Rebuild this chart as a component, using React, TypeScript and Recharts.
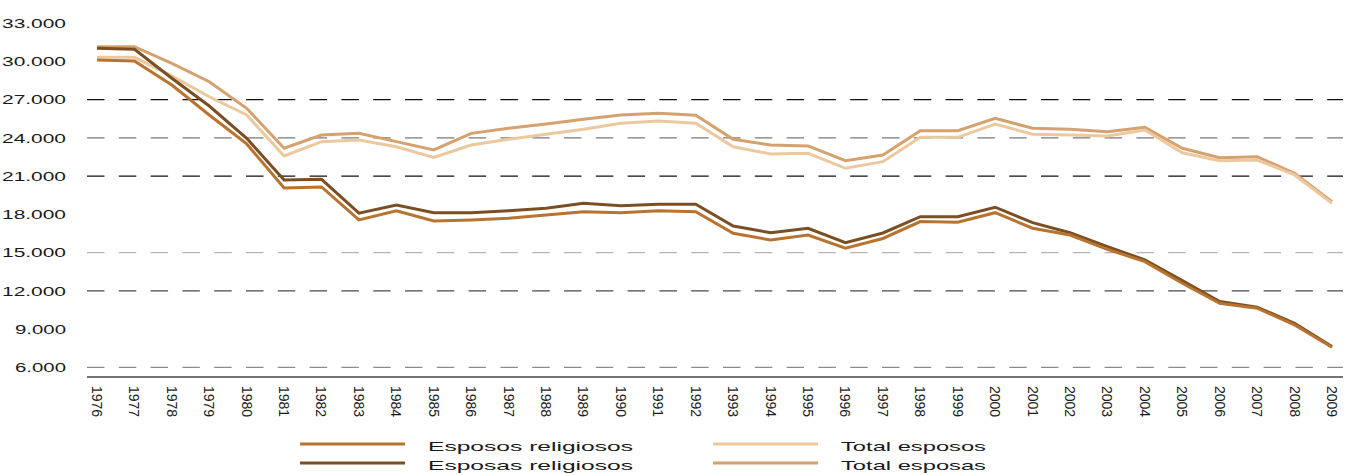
import React from 'react';
import { LineChart, Line, XAxis, YAxis, ReferenceLine } from 'recharts';

const years = [
  '1976', '1977', '1978', '1979', '1980', '1981', '1982', '1983', '1984', '1985', '1986', '1987',
  '1988', '1989', '1990', '1991', '1992', '1993', '1994', '1995', '1996', '1997', '1998', '1999',
  '2000', '2001', '2002', '2003', '2004', '2005', '2006', '2007', '2008', '2009',
];

const esposReligiosos = [
  30100, 30020, 28140, 25790, 23520, 20070, 20150, 17560, 18270, 17480, 17560, 17690,
  17950, 18210, 18130, 18290, 18210, 16520, 15990, 16380, 15340, 16110, 17430, 17380,
  18130, 16910, 16380, 15260, 14290, 12600, 11030, 10640, 9330, 7580,
];

const esposasReligiosos = [
  31020, 30940, 28670, 26490, 23960, 20690, 20750, 18090, 18740, 18130, 18130, 18290,
  18480, 18870, 18680, 18790, 18790, 17090, 16560, 16910, 15780, 16540, 17820, 17820,
  18560, 17350, 16560, 15470, 14430, 12800, 11160, 10720, 9460, 7630,
];

const totalEsposos = [
  30310, 30310, 28850, 27220, 25790, 22580, 23700, 23830, 23300, 22470, 23440, 23880,
  24280, 24670, 25140, 25320, 25140, 23300, 22730, 22790, 21610, 22130, 24040, 24040,
  25080, 24280, 24220, 24140, 24610, 22830, 22210, 22260, 21090, 18870,
];

const totalEsposas = [
  31140, 31140, 29840, 28400, 26310, 23180, 24220, 24350, 23700, 23050, 24350, 24750,
  25080, 25450, 25790, 25920, 25770, 23880, 23440, 23360, 22210, 22650, 24560, 24560,
  25530, 24750, 24670, 24480, 24820, 23180, 22440, 22520, 21220, 18990,
];

const yTicks = [6000, 9000, 12000, 15000, 18000, 21000, 24000, 27000, 30000, 33000];

// dashed guides; 18.000 and 9.000 have none in the original
const guides = [
  { value: 6000, color: '#8c8c8c' },
  { value: 12000, color: '#4a4a4a' },
  { value: 15000, color: '#b4b4b4' },
  { value: 21000, color: '#111111' },
  { value: 24000, color: '#7a7a7a' },
  { value: 27000, color: '#111111' },
];

const series = [
  { key: 'totalEsposas', name: 'Total esposas', color: '#d4a16f' },
  { key: 'totalEsposos', name: 'Total esposos', color: '#ecc89e' },
  { key: 'esposasRel', name: 'Esposas religiosos', color: '#7a4f24' },
  { key: 'esposRel', name: 'Esposos religiosos', color: '#b8732e' },
];

const data = years.map((year, i) => ({
  year,
  esposRel: esposReligiosos[i],
  esposasRel: esposasReligiosos[i],
  totalEsposos: totalEsposos[i],
  totalEsposas: totalEsposas[i],
}));

const FONT = '"Liberation Sans", Arial, Helvetica, sans-serif';

const fmt = (v: number) => v.toLocaleString('de-DE');

function YTick(props: any) {
  const { x, y, payload } = props;
  const label = fmt(payload.value);
  return (
    <text
      x={x - 13}
      y={y}
      dy="0.36em"
      textAnchor="end"
      fontFamily={FONT}
      fontSize={13.5}
      fill="#1a1a1a"
      textLength={label.length === 6 ? 64 : 51}
      lengthAdjust="spacingAndGlyphs"
    >
      {label}
    </text>
  );
}

function XTick(props: any) {
  const { x, y, payload } = props;
  return (
    <text
      transform={`translate(${x},${y + 1}) rotate(90)`}
      dy="0.36em"
      textAnchor="start"
      fontFamily={FONT}
      fontSize={14}
      fill="#1a1a1a"
    >
      {payload.value}
    </text>
  );
}

const legendItems = [
  { name: 'Esposos religiosos', color: '#b8732e', x: 300, y: 444, w: 205 },
  { name: 'Esposas religiosos', color: '#7a4f24', x: 300, y: 463, w: 205 },
  { name: 'Total esposos', color: '#ecc89e', x: 713, y: 444, w: 145 },
  { name: 'Total esposas', color: '#d4a16f', x: 713, y: 463, w: 145 },
];

export default function App() {
  return (
    <div style={{ position: 'absolute', left: 0, top: 0, width: 1353, height: 475, background: '#fff' }}>
      <LineChart width={1353} height={475} data={data} margin={{ top: 23, right: 10, bottom: 0, left: 0 }}>
        <XAxis
          dataKey="year"
          interval={0}
          padding={{ left: 10, right: 11 }}
          tickLine={false}
          axisLine={{ stroke: '#444', strokeWidth: 1.5 }}
          tick={<XTick />}
          height={98}
        />
        <YAxis
          domain={[5250, 33000]}
          ticks={yTicks}
          interval={0}
          width={87}
          axisLine={false}
          tickLine={false}
          tick={<YTick />}
        />
        {guides.map((g) => (
          <ReferenceLine key={g.value} y={g.value} stroke={g.color} strokeWidth={1.3} strokeDasharray="17.5 14.3" />
        ))}
        {series.map((s) => (
          <Line
            key={s.key}
            type="linear"
            dataKey={s.key}
            name={s.name}
            stroke={s.color}
            strokeWidth={3}
            dot={false}
            isAnimationActive={false}
          />
        ))}
      </LineChart>
      <svg width={1353} height={475} style={{ position: 'absolute', left: 0, top: 0, pointerEvents: 'none' }}>
        {legendItems.map((it) => (
          <g key={it.name}>
            <line x1={it.x} x2={it.x + 105} y1={it.y} y2={it.y} stroke={it.color} strokeWidth={3} />
            <text
              x={it.x + 128}
              y={it.y + 7}
              fontFamily={FONT}
              fontSize={13.5}
              fill="#1a1a1a"
              textLength={it.w}
              lengthAdjust="spacingAndGlyphs"
            >
              {it.name}
            </text>
          </g>
        ))}
      </svg>
    </div>
  );
}
